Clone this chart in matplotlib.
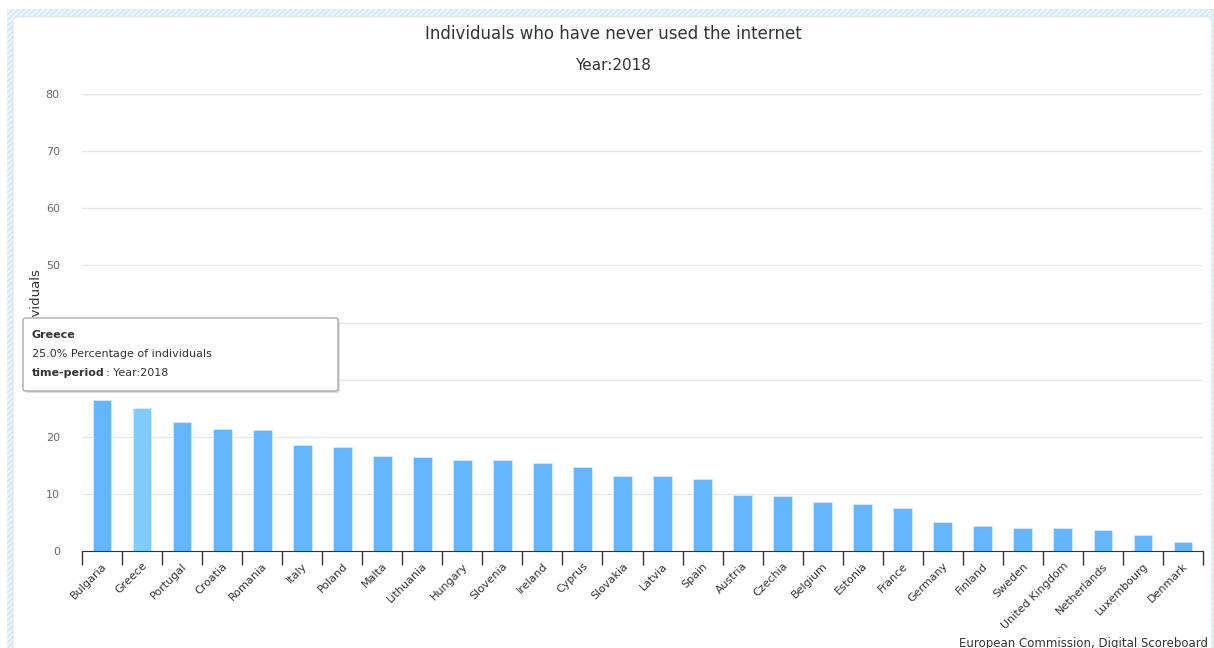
import matplotlib.pyplot as plt
import matplotlib.patches as mpatches
import numpy as np

countries = ['Bulgaria', 'Greece', 'Portugal', 'Croatia', 'Romania', 'Italy', 'Poland',
             'Malta', 'Lithuania', 'Hungary', 'Slovenia', 'Ireland', 'Cyprus', 'Slovakia',
             'Latvia', 'Spain', 'Austria', 'Czechia', 'Belgium', 'Estonia', 'France',
             'Germany', 'Finland', 'Sweden', 'United Kingdom', 'Netherlands',
             'Luxembourg', 'Denmark']
values = [26.4, 25.0, 22.6, 21.3, 21.1, 18.5, 18.2, 16.6, 16.5, 15.9, 15.9, 15.4,
          14.7, 13.1, 13.1, 12.6, 9.8, 9.6, 8.5, 8.2, 7.6, 5.0, 4.3, 4.1, 4.1, 3.6,
          2.8, 1.5]
highlight = 'Greece'
yticks = [0, 10, 20, 30, 40, 50, 60, 70, 80]

W, H = 1214, 648
fig = plt.figure(figsize=(W / 100, H / 100), dpi=100)

def fx(px):
    return px / W

def fy(py):
    return 1 - py / H

# hatched frame round the chart container
frame = mpatches.Rectangle((fx(7), 0), 1, fy(9), transform=fig.transFigure,
                           facecolor='#eaf5fc', edgecolor='#cde6f6', hatch='//////',
                           linewidth=0, zorder=-3)
fig.patches.append(frame)
box = mpatches.FancyBboxPatch((fx(13), fy(700)), fx(1212 - 13), fy(17) - fy(700),
                              boxstyle='round,pad=0,rounding_size=0.006',
                              transform=fig.transFigure, facecolor='white',
                              edgecolor='#e4e4e4', linewidth=0.8, zorder=-2)
fig.patches.append(box)

ax = fig.add_axes([fx(82), fy(551), fx(1203 - 82), fy(94) - fy(551)])
ax.set_facecolor('none')

x = np.arange(len(countries))
colors = ['#7fcdff' if c == highlight else '#63b5fe' for c in countries]
ax.bar(x, values, width=0.47, color=colors, edgecolor='#d6ecff', linewidth=0.6, zorder=2)

ax.set_xlim(-0.5, len(countries) - 0.5)
ax.set_ylim(0, 80)
ax.set_yticks(yticks)
ax.yaxis.grid(True, color='#e6e6e6', linewidth=1)
ax.set_axisbelow(True)
for s in ['top', 'right', 'left']:
    ax.spines[s].set_visible(False)
ax.spines['bottom'].set_color('#333333')
ax.tick_params(axis='y', length=0, pad=16, labelsize=8, labelcolor='#666666')
ax.set_xticks(x)
ax.set_xticklabels(countries, rotation=45, ha='right', rotation_mode='anchor',
                   fontsize=8, color='#333333')
ax.tick_params(axis='x', which='major', length=0, pad=7)
ax.set_xticks(np.arange(len(countries) + 1) - 0.5, minor=True)
ax.tick_params(axis='x', which='minor', length=10, width=1, color='#333333')
ax.set_ylabel('% of individuals', fontsize=9.5, color='#333333')
ax.yaxis.set_label_coords((43 - 82) / (1203 - 82), 0.5)

fig.text(fx(613), fy(34), 'Individuals who have never used the internet',
         ha='center', va='center', fontsize=12, color='#333333')
fig.text(fx(613), fy(66), 'Year:2018', ha='center', va='center', fontsize=11,
         color='#333333')
fig.text(fx(1208), fy(643), 'European Commission, Digital Scoreboard', ha='right',
         va='center', fontsize=8.5, color='#333333')

# hover tooltip
shadow = mpatches.FancyBboxPatch((fx(25), fy(393)), fx(315), fy(318) - fy(391),
                                 boxstyle='round,pad=0,rounding_size=0.003',
                                 transform=fig.transFigure, facecolor='#dddddd',
                                 edgecolor='none', zorder=9)
fig.patches.append(shadow)
tip = mpatches.FancyBboxPatch((fx(23), fy(391)), fx(315), fy(318) - fy(391),
                              boxstyle='round,pad=0,rounding_size=0.003',
                              transform=fig.transFigure, facecolor='white',
                              edgecolor='#aaaaaa', linewidth=1, zorder=10)
fig.patches.append(tip)
fig.text(fx(32), fy(335), highlight, fontsize=8, fontweight='bold', color='#333333',
         va='center', zorder=11)
fig.text(fx(32), fy(354), '%.1f%% Percentage of individuals' % values[countries.index(highlight)],
         fontsize=8, color='#333333', va='center', zorder=11)
t = fig.text(fx(32), fy(373), 'time-period', fontsize=8, fontweight='bold',
             color='#333333', va='center', zorder=11)
renderer = fig.canvas.get_renderer()
bb = t.get_window_extent(renderer)
fig.text(bb.x1 / W + 0.001, fy(373), ': Year:2018', fontsize=8, color='#333333',
         va='center', zorder=11)

fig.savefig('out.png', dpi=100)
